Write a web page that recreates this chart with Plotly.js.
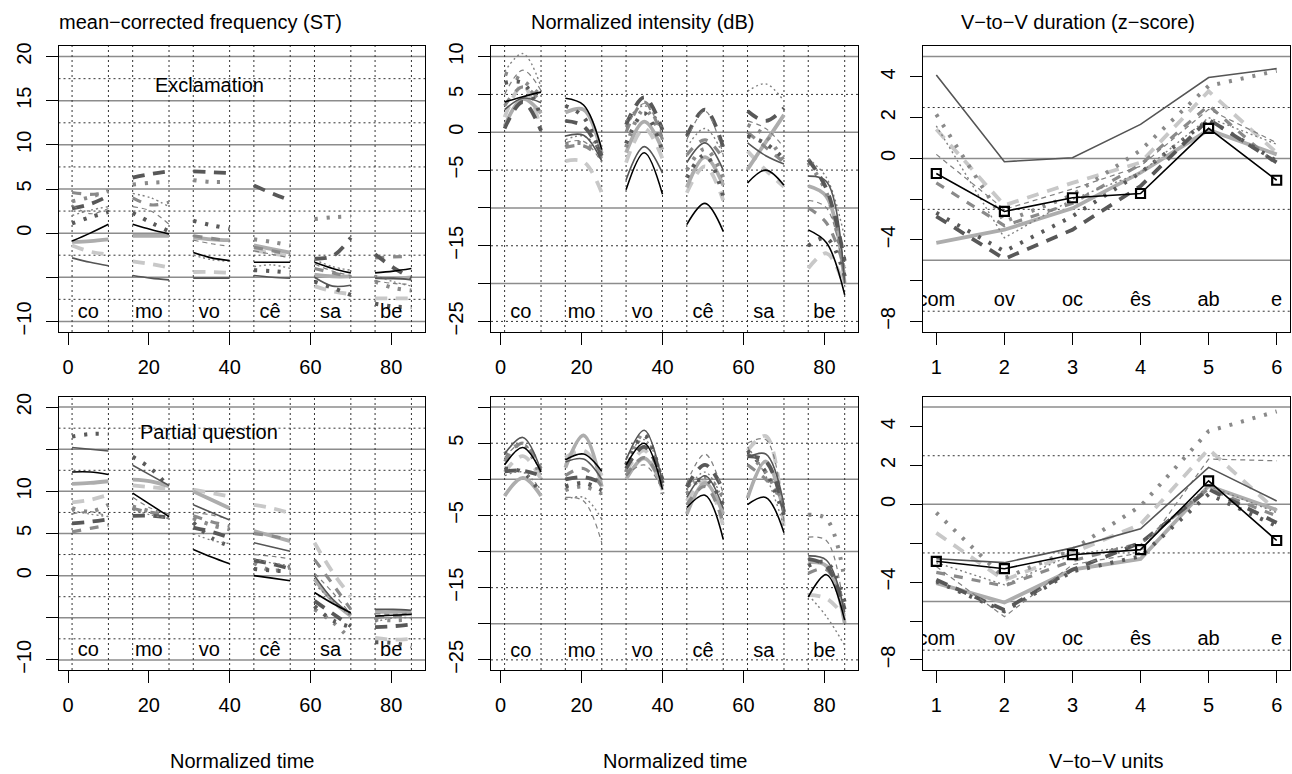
<!DOCTYPE html>
<html>
<head>
<meta charset="utf-8">
<script src="https://cdn.plot.ly/plotly-3.0.1.min.js"></script>
<style>html,body{margin:0;padding:0;background:#fff;}#chart{width:1292px;height:774px;}</style>
</head>
<body>
<div id="chart"></div>
<script>
// ---------------- DATA ----------------
const normTime = [1,5.5,10, 16,20.5,25, 31,35.5,40, 46,50.5,55, 61,65.5,70, 76,80.5,85];
const syllables = ['co','mo','vo','cê','sa','be'];
const syllableTime = [5,20,35,50,65,80];
const vvUnits = [1,2,3,4,5,6];
const vvLabels = ['com','ov','oc','ês','ab','e'];
const timeTicks = [0,20,40,60,80];
const segBounds = [1,10,16,25,31,40,46,55,61,70,76,85];

// speakers: A..J (one row per speaker)
const freqExcl = [
  [-0.9,0.0,1.0, 1.0,0.4,-0.1, -2.2,-2.8,-3.1, -3.3,-3.3,-3.3, -3.3,-4.0,-4.5, -4.5,-4.3,-4.0],
  [-2.8,-3.3,-3.7, -4.8,-5.1,-5.3, -5.1,-5.1,-5.1, -4.8,-5.0,-5.1, -5.0,-6.0,-5.9, -5.1,-5.1,-5.3],
  [-1.0,-0.9,-0.7, -0.3,-0.3,-0.3, -0.5,-0.7,-0.8, -1.4,-1.8,-2.2, -4.7,-4.9,-4.9, -5.0,-5.1,-5.0],
  [2.8,3.3,4.2, 6.3,6.7,7.0, 7.0,6.9,6.8, 5.4,4.5,3.7, -2.9,-2.6,-0.5, -2.4,-3.9,-5.1],
  [4.6,4.4,4.6, 4.0,3.2,3.5, -0.3,-0.6,-0.9, -1.6,-2.0,-2.4, -4.0,-4.5,-5.0, -2.8,-2.7,-2.6],
  [-1.4,-2.1,-2.4, -3.2,-3.5,-3.9, -4.4,-4.4,-4.5, -1.9,-2.3,-2.6, -6.0,-6.6,-6.9, -7.4,-7.4,-7.4],
  [1.1,1.8,2.4, 2.3,1.2,0.2, 1.4,0.9,0.5, -4.2,-4.3,-4.5, -5.5,-6.2,-7.0, -8.0,-8.3,-8.4],
  [3.6,4.1,4.8, 5.5,5.7,5.8, 6.0,5.8,5.8, -0.7,-1.0,-1.4, 1.6,1.8,1.9, -5.5,-6.2,-6.5],
  [3.2,2.2,2.8, 3.0,2.5,1.0, -0.8,-1.2,-1.5, -2.0,-2.4,-2.8, -3.5,-4.3,-4.8, -5.4,-5.7,-5.8],
  [2.0,2.6,3.0, 4.5,4.0,3.0, -2.5,-3.0,-3.2, -3.8,-3.6,-4.0, -3.0,-3.8,-4.2, -4.8,-5.5,-6.0]
];
const freqPartial = [
  [12.3,12.3,12.0, 9.8,8.4,7.0, 3.1,2.2,1.4, 0.0,-0.3,-0.6, -2.0,-3.3,-4.4, -4.8,-4.7,-4.6],
  [15.2,15.0,14.8, 13.1,11.9,10.7, 8.4,7.5,6.6, 3.9,3.4,2.9, 0.0,-2.8,-4.5, -4.0,-4.0,-4.1],
  [10.9,11.0,11.2, 11.4,11.2,10.6, 10.0,9.0,8.0, 5.3,4.7,4.1, -0.4,-3.0,-4.8, -4.3,-4.3,-4.3],
  [6.2,6.4,6.7, 7.1,7.1,6.9, 5.7,5.2,4.5, 1.8,1.4,0.8, -3.0,-4.5,-6.0, -6.1,-6.0,-5.8],
  [5.2,5.6,6.0, 8.0,7.5,7.2, 7.1,6.4,5.9, 5.0,4.7,4.3, 1.9,-1.0,-4.0, -5.0,-4.8,-4.9],
  [8.7,9.0,9.6, 10.7,10.5,10.3, 10.2,9.8,9.4, 8.4,8.0,7.4, 3.9,0.4,-2.5, -7.4,-7.6,-7.5],
  [16.5,16.8,16.8, 14.1,12.7,10.5, 6.3,4.5,3.5, 0.8,0.6,0.5, -3.6,-5.3,-6.1, -7.9,-8.0,-8.4],
  [8.0,7.6,8.4, 8.2,7.6,6.9, 6.8,6.0,5.5, 1.5,0.6,1.0, -4.0,-5.5,-7.6, -5.2,-5.3,-5.2],
  [7.3,7.6,7.0, 9.3,8.0,7.3, 7.5,7.2,6.7, 2.5,2.3,2.0, 0.3,-2.0,-4.6, -4.5,-4.6,-4.4],
  [7.7,7.3,7.0, 7.8,7.2,6.8, 5.0,4.2,3.8, 2.0,1.5,1.2, -1.0,-3.0,-4.8, -5.5,-5.0,-5.0]
];
const intExcl = [
  [4.0,4.7,5.3, 4.5,3.6,-2.3, -7.6,-2.7,-8.2, -12.2,-9.4,-13.1, -6.7,-5.0,-7.0, -12.9,-14.6,-21.5],
  [3.0,4.5,3.9, -0.5,-0.4,-3.8, -6.3,-1.9,-5.4, -4.0,-1.4,-5.0, -1.4,-3.1,-4.2, -5.8,-6.5,-20.0],
  [0.8,4.4,2.5, 2.6,3.0,-2.8, -2.7,1.4,-2.3, -7.3,-3.3,-7.0, -4.9,-1.3,2.3, -7.1,-8.5,-20.0],
  [0.5,4.0,0.2, 1.5,0.8,-3.1, 1.0,4.6,0.3, -0.5,3.0,-2.0, 2.8,1.5,3.2, -3.6,-7.5,-17.0],
  [3.5,6.0,4.0, -2.0,-1.8,-3.5, 0.0,4.0,-1.0, -3.0,-1.0,-3.5, 0.0,-2.0,-4.0, -10.0,-12.0,-18.0],
  [2.0,6.2,0.3, -3.8,-3.9,-8.0, -4.0,0.5,-3.5, -8.0,-4.5,-9.0, -2.5,-5.0,-7.2, -18.0,-16.0,-20.5],
  [6.5,6.5,2.0, 3.5,2.0,-3.4, -1.5,2.5,-2.5, -6.0,-3.0,-8.5, -0.5,-1.5,-3.5, -15.0,-14.0,-19.0],
  [7.8,6.8,4.8, -1.6,-1.5,-3.0, -2.0,3.0,-1.0, -5.0,-2.2,-6.0, 1.0,-0.5,-3.8, -4.0,-8.0,-19.0],
  [5.0,8.2,5.5, -1.4,-1.2,-4.0, 0.5,3.8,-0.5, -1.0,2.8,-3.0, 1.5,0.5,-2.0, -9.0,-10.0,-20.0],
  [8.0,10.4,6.0, -1.0,-0.5,-2.5, 1.5,3.5,0.5, -2.0,0.5,-3.0, 5.4,6.4,4.1, -3.5,-6.0,-14.0]
];
const intPartial = [
  [2.0,4.4,1.0, 2.7,3.5,1.1, 2.0,5.0,-1.4, -3.9,-2.2,-8.3, -3.5,-2.5,-7.4, -16.3,-13.2,-19.5],
  [3.5,5.8,1.2, 2.4,2.8,0.0, 2.7,6.8,-0.5, -2.5,0.5,-4.0, 3.0,3.5,-3.5, -10.6,-11.2,-18.4],
  [-2.3,0.2,-2.3, 1.6,6.1,-1.0, 0.0,2.9,-1.0, -4.8,-0.5,-4.8, -2.6,2.5,-4.6, -11.5,-12.0,-19.9],
  [1.1,1.2,0.5, 0.0,0.3,-0.5, 1.5,4.5,0.0, -1.0,2.0,-1.5, 3.2,2.5,-4.5, -11.0,-12.0,-18.0],
  [2.5,5.0,1.5, 0.5,1.5,-1.0, 0.5,3.0,-1.0, -3.5,-1.0,-6.0, 2.0,0.0,-3.0, -13.0,-12.5,-19.0],
  [1.0,3.2,0.0, 3.0,4.0,0.5, 1.0,4.0,-1.5, -3.0,-0.3,-6.5, 4.0,6.0,-7.0, -16.0,-16.5,-19.0],
  [1.5,1.0,-2.0, -1.0,-0.5,-1.5, 2.0,6.0,-0.5, -1.0,0.0,-3.5, 4.0,1.0,-5.0, -12.0,-11.5,-17.0],
  [3.5,4.8,0.0, -1.5,-1.0,-2.0, 1.0,6.5,-2.0, -2.0,0.3,-2.5, 3.5,1.0,-4.0, -4.9,-5.5,-14.0],
  [3.0,5.0,0.5, -2.5,-3.0,-8.8, 0.5,2.0,-1.5, -0.5,3.5,-2.0, 5.0,5.5,-6.0, -8.0,-8.5,-19.0],
  [0.5,1.0,-1.5, -2.8,-2.5,-5.5, 3.0,5.5,0.5, -1.5,1.0,-3.0, 4.5,0.5,-6.5, -16.0,-19.0,-23.0]
];
const durExcl = [
  [-0.74,-2.6,-1.93,-1.72,1.48,-1.07],
  [4.1,-0.16,0.03,1.67,3.97,4.41],
  [-4.15,-3.5,-2.45,-0.7,1.4,0.2],
  [-2.84,-4.93,-3.5,-1.36,1.92,-0.2],
  [-1.2,-3.3,-2.2,-0.3,2.6,-0.3],
  [1.43,-2.3,-1.2,-0.2,3.3,0.28],
  [-2.67,-4.56,-2.84,-0.7,1.9,-0.13],
  [2.16,-3.1,-1.8,0.4,3.56,4.3],
  [0.2,-2.5,-1.5,-0.38,2.41,0.77],
  [1.6,-3.9,-2.0,-0.7,2.0,0.7]
];
const durPartial = [
  [-2.93,-3.31,-2.59,-2.33,1.21,-1.86],
  [-2.8,-3.0,-2.24,-1.26,1.9,0.17],
  [-4.05,-5.05,-3.36,-2.81,0.95,-0.29],
  [-3.88,-5.43,-3.36,-1.98,0.78,-0.95],
  [-3.5,-4.2,-2.9,-2.0,0.8,-0.6],
  [-1.47,-3.9,-2.5,-1.03,2.84,-0.34],
  [-3.97,-5.5,-3.45,-2.67,0.52,-1.12],
  [-0.43,-3.8,-2.33,-0.09,3.76,4.78],
  [-3.2,-5.78,-3.1,-2.5,2.33,2.24],
  [-3.0,-4.14,-2.59,-2.07,0.95,-0.43]
];

// grid reference levels
const freqGridSolid = [-10,-5,0,5,10,15,20];
const freqGridDot = [-7.5,-2.5,2.5,7.5,12.5,17.5];
const intGridSolid = [-20,-10,0,10];
const intGridDot = [-25,-15,-5,5];
const durGridSolid = [-5,0,5];
const durGridDot = [-7.5,-2.5,2.5];

// ---------------- STYLE ----------------
const FONT = 'Liberation Sans, Arial, Helvetica, sans-serif';
const FS = 20;
const styles = [
  {color:'#000000', width:1.6, dash:'solid'},
  {color:'#555555', width:1.6, dash:'solid'},
  {color:'#adadad', width:3.8, dash:'solid'},
  {color:'#585858', width:3.8, dash:'12px,9px'},
  {color:'#8a8a8a', width:3.2, dash:'9px,9px'},
  {color:'#c8c8c8', width:3.8, dash:'12px,9px'},
  {color:'#5a5a5a', width:4, dash:'3px,9px'},
  {color:'#8a8a8a', width:4, dash:'3px,9px'},
  {color:'#808080', width:1.2, dash:'5px,4px'},
  {color:'#808080', width:1.4, dash:'2px,3px'}
];
const drawOrder = [5,2,4,7,3,6,8,9,1,0];

const traces = [];
function segTraces(data, xa, ya) {
  drawOrder.forEach(i => {
    const x = [], y = [];
    for (let s = 0; s < 6; s++) {
      for (let k = 0; k < 3; k++) { x.push(normTime[s*3+k]); y.push(data[i][s*3+k]); }
      if (s < 5) { x.push(null); y.push(null); }
    }
    traces.push({type:'scatter', mode:'lines', x, y, xaxis:xa, yaxis:ya,
      line:{color:styles[i].color, width:styles[i].width, dash:styles[i].dash, shape:'spline', smoothing:1},
      connectgaps:false, hoverinfo:'skip', showlegend:false});
  });
}
function durTraces(data, xa, ya) {
  drawOrder.forEach(i => {
    const tr = {type:'scatter', mode:'lines', x:vvUnits, y:data[i], xaxis:xa, yaxis:ya,
      line:{color:styles[i].color, width:styles[i].width, dash:styles[i].dash},
      hoverinfo:'skip', showlegend:false};
    if (i === 0) {
      tr.mode = 'lines+markers';
      tr.marker = {symbol:'square-open', size:9, color:'#000', line:{width:2.2, color:'#000'}};
    }
    traces.push(tr);
  });
}
function labelTrace(xs, ys, texts, xa, ya) {
  traces.push({type:'scatter', mode:'text', x:xs, y:xs.map(() => ys), text:texts, xaxis:xa, yaxis:ya,
    textposition:'middle center', textfont:{family:FONT, size:FS, color:'#000'},
    cliponaxis:true, hoverinfo:'skip', showlegend:false});
}

segTraces(freqExcl, 'x', 'y');
segTraces(intExcl, 'x2', 'y2');
durTraces(durExcl, 'x3', 'y3');
segTraces(freqPartial, 'x4', 'y4');
segTraces(intPartial, 'x5', 'y5');
durTraces(durPartial, 'x6', 'y6');
labelTrace(syllableTime, -9, syllables, 'x', 'y');
labelTrace(syllableTime, -23.9, syllables, 'x2', 'y2');
labelTrace(vvUnits, -7, vvLabels, 'x3', 'y3');
labelTrace(syllableTime, -8.9, syllables, 'x4', 'y4');
labelTrace(syllableTime, -23.9, syllables, 'x5', 'y5');
labelTrace(vvUnits, -7, vvLabels, 'x6', 'y6');

// ---------------- LAYOUT ----------------
const W = 1292, H = 774;
const colDom = [[58.5/W, 425/W], [491/W, 858.3/W], [922.7/W, 1290.3/W]];
const rowDom = [[1-332/H, 1-46/H], [1-670/H, 1-397/H]];
const minus = v => (v < 0 ? '\u2212' + Math.abs(v) : String(v));

function xAx(col, row, anchor, range, tickvals) {
  return {domain:colDom[col], anchor, range, tickmode:'array', tickvals, ticktext:tickvals.map(minus),
    ticks:'outside', ticklen:12, tickwidth:1, tickcolor:'#000', showline:true, mirror:true,
    linecolor:'#000', linewidth:1, showgrid:false, zeroline:false, fixedrange:true, ticklabelstandoff:5,
    tickfont:{family:FONT, size:FS, color:'#000'}};
}
function yAx(col, row, anchor, range, tickvals, shown) {
  return {domain:rowDom[row], anchor, range, tickmode:'array', tickvals,
    ticktext:tickvals.map(v => shown.includes(v) ? minus(v) : ''),
    ticks:'outside', ticklen:12, tickwidth:1, tickcolor:'#000', showline:true, mirror:true,
    linecolor:'#000', linewidth:1, showgrid:false, zeroline:false, fixedrange:true, tickangle:-90,
    ticklabelstandoff:7, tickfont:{family:FONT, size:FS, color:'#000'}};
}
const freqRange = [-11.2, 21.2], intRange = [-26.4, 11.4], durRange = [-8.52, 5.52];
const tRange = [-2.36, 88.36], vRange = [0.8, 6.2];
const freqTicks = [-10,-5,0,5,10,15,20];
const intTicks = [-25,-20,-15,-10,-5,0,5,10];
const durTicks = [-8,-6,-4,-2,0,2,4];

const shapes = [];
function hLines(vals, xa, ya, solid) {
  vals.forEach(v => shapes.push({type:'line', layer:'below', xref:xa + ' domain', yref:ya, x0:0, x1:1, y0:v, y1:v,
    line: solid ? {color:'#8c8c8c', width:1.5} : {color:'#333', width:1, dash:'2px,3px'}}));
}
function vLines(vals, xa, ya) {
  vals.forEach(v => shapes.push({type:'line', layer:'below', xref:xa, yref:ya + ' domain', x0:v, x1:v, y0:0, y1:1,
    line:{color:'#333', width:1, dash:'2px,3px'}}));
}
[['x','y'],['x4','y4']].forEach(([xa,ya]) => { hLines(freqGridSolid, xa, ya, true); hLines(freqGridDot, xa, ya, false); vLines(segBounds, xa, ya); });
[['x2','y2'],['x5','y5']].forEach(([xa,ya]) => { hLines(intGridSolid, xa, ya, true); hLines(intGridDot, xa, ya, false); vLines(segBounds, xa, ya); });
[['x3','y3'],['x6','y6']].forEach(([xa,ya]) => { hLines(durGridSolid, xa, ya, true); hLines(durGridDot, xa, ya, false); });

const ann = (text, x, y, size, xref='paper', yref='paper') => ({text, x, y, xref, yref, showarrow:false,
  xanchor:'center', yanchor:'middle', font:{family:FONT, size, color:'#000'}});

const layout = {
  width:W, height:H, margin:{l:0, r:0, t:0, b:0}, paper_bgcolor:'#fff', plot_bgcolor:'#fff',
  showlegend:false,
  xaxis:  xAx(0,0,'y', tRange, timeTicks),
  xaxis2: xAx(1,0,'y2', tRange, timeTicks),
  xaxis3: xAx(2,0,'y3', vRange, vvUnits),
  xaxis4: xAx(0,1,'y4', tRange, timeTicks),
  xaxis5: xAx(1,1,'y5', tRange, timeTicks),
  xaxis6: xAx(2,1,'y6', vRange, vvUnits),
  yaxis:  yAx(0,0,'x', freqRange, freqTicks, [20,15,10,5,0,-10]),
  yaxis2: yAx(1,0,'x2', intRange, intTicks, [10,5,0,-5,-15,-25]),
  yaxis3: yAx(2,0,'x3', durRange, durTicks, [4,2,0,-4,-8]),
  yaxis4: yAx(0,1,'x4', freqRange, freqTicks, [20,10,5,0,-10]),
  yaxis5: yAx(1,1,'x5', intRange, intTicks, [5,-5,-15,-25]),
  yaxis6: yAx(2,1,'x6', durRange, durTicks, [4,2,0,-4,-8]),
  shapes,
  annotations:[
    ann('mean\u2212corrected frequency (ST)', 200/W, 1-22/H, FS),
    ann('Normalized intensity (dB)', 642/W, 1-22/H, FS),
    ann('V\u2212to\u2212V duration (z\u2212score)', 1078/W, 1-22/H, FS),
    ann('Normalized time', 241.75/W, 1-761/H, FS),
    ann('Normalized time', 674.6/W, 1-761/H, FS),
    ann('V\u2212to\u2212V units', 1106.5/W, 1-761/H, FS),
    ann('Exclamation', 35, 16.8, FS, 'x', 'y'),
    ann('Partial question', 35, 17, FS, 'x4', 'y4')
  ]
};

Plotly.newPlot('chart', traces, layout, {staticPlot:true, displayModeBar:false});
</script>
</body>
</html>
